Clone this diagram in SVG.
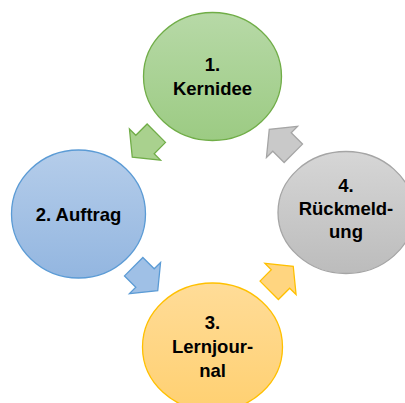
<svg xmlns="http://www.w3.org/2000/svg" width="405" height="403" viewBox="0 0 405 403">
  <defs>
    <linearGradient id="gGreen" x1="0" y1="0" x2="0" y2="1">
      <stop offset="0" stop-color="#b7d9a7"/>
      <stop offset="1" stop-color="#9ccb83"/>
    </linearGradient>
    <linearGradient id="gBlue" x1="0" y1="0" x2="0" y2="1">
      <stop offset="0" stop-color="#b5cdea"/>
      <stop offset="1" stop-color="#93b6e0"/>
    </linearGradient>
    <linearGradient id="gYellow" x1="0" y1="0" x2="0" y2="1">
      <stop offset="0" stop-color="#ffdc98"/>
      <stop offset="1" stop-color="#ffd071"/>
    </linearGradient>
    <linearGradient id="gGray" x1="0" y1="0" x2="0" y2="1">
      <stop offset="0" stop-color="#d6d6d6"/>
      <stop offset="1" stop-color="#bcbcbc"/>
    </linearGradient>
    <path id="arrow" d="M -16,-13 L 0,-13 L 0,-22 L 18,0 L 0,22 L 0,13 L -16,13 Z"/>
  </defs>
  <style>
    .lbl { font-family: "Liberation Sans", Arial, sans-serif; font-weight: bold; font-size: 18.5px; fill: #000; text-anchor: middle; }
    .node ellipse { stroke-width: 1.3; }
    .conn use { stroke-width: 1.3; stroke-linejoin: miter; }
  </style>

  <g id="connectors" class="conn">
    <use href="#arrow" transform="translate(145,144.5) rotate(135)" fill="#a9d18e" stroke="#70ad47"/>
    <use href="#arrow" transform="translate(145,278) rotate(45)" fill="#9fc0e6" stroke="#5b9bd5"/>
    <use href="#arrow" transform="translate(280.5,279) rotate(-45)" fill="#ffd580" stroke="#ffc000"/>
    <use href="#arrow" transform="translate(282,142) rotate(-135)" fill="#c9c9c9" stroke="#a5a5a5"/>
  </g>

  <g id="node1" class="node">
    <ellipse cx="212.5" cy="76.5" rx="69" ry="64" fill="url(#gGreen)" stroke="#70ad47"/>
    <text class="lbl" x="212.5" y="71">1.</text>
    <text class="lbl" x="212.5" y="95">Kernidee</text>
  </g>

  <g id="node2" class="node">
    <ellipse cx="78.5" cy="214" rx="67" ry="64" fill="url(#gBlue)" stroke="#5b9bd5"/>
    <text class="lbl" x="78.5" y="221">2. Auftrag</text>
  </g>

  <g id="node3" class="node">
    <ellipse cx="212.5" cy="347" rx="70" ry="64" fill="url(#gYellow)" stroke="#ffc000"/>
    <text class="lbl" x="212.5" y="329">3.</text>
    <text class="lbl" x="212.5" y="353">Lernjour-</text>
    <text class="lbl" x="212.5" y="377">nal</text>
  </g>

  <g id="node4" class="node">
    <ellipse cx="346" cy="212.5" rx="68" ry="61" fill="url(#gGray)" stroke="#a5a5a5"/>
    <text class="lbl" x="346" y="192">4.</text>
    <text class="lbl" x="346" y="215">Rückmeld-</text>
    <text class="lbl" x="346" y="238">ung</text>
  </g>
</svg>
